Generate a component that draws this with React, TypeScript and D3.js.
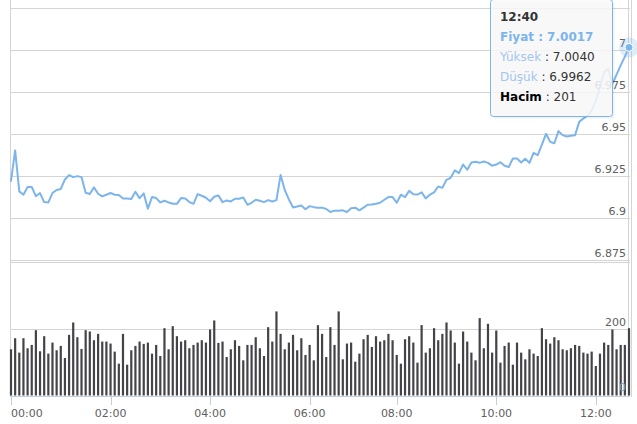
import React from "react";
import * as d3 from "d3";

// ---- data (5-minute points, ordinal x axis) ----
const price: number[] = [
  6.9222, 6.9403, 6.9159, 6.9139, 6.9185, 6.9185, 6.9131, 6.9149, 6.9095, 6.9093,
  6.9149, 6.9167, 6.9173, 6.9230, 6.9256, 6.9244, 6.9250, 6.9244, 6.9151, 6.9143,
  6.9183, 6.9145, 6.9129, 6.9139, 6.9149, 6.9139, 6.9137, 6.9117, 6.9117, 6.9113,
  6.9157, 6.9119, 6.9147, 6.9056, 6.9125, 6.9119, 6.9093, 6.9103, 6.9093, 6.9085,
  6.9085, 6.9119, 6.9117, 6.9095, 6.9085, 6.9143, 6.9133, 6.9121, 6.9100, 6.9127,
  6.9135, 6.9095, 6.9105, 6.9099, 6.9115, 6.9115, 6.9123, 6.9079, 6.9091, 6.9109,
  6.9103, 6.9095, 6.9107, 6.9099, 6.9107, 6.9256, 6.9167, 6.9111, 6.9063, 6.9069,
  6.9075, 6.9052, 6.9071, 6.9065, 6.9062, 6.9062, 6.9054, 6.9036, 6.9044, 6.9044,
  6.9046, 6.9036, 6.9058, 6.9062, 6.9046, 6.9062, 6.9079, 6.9081, 6.9085, 6.9091,
  6.9109, 6.9125, 6.9125, 6.9091, 6.9139, 6.9125, 6.9162, 6.9142, 6.9140, 6.9153,
  6.9117, 6.9140, 6.9153, 6.9188, 6.9180, 6.9228, 6.9240, 6.9284, 6.9268, 6.9319,
  6.9288, 6.9331, 6.9335, 6.9329, 6.9337, 6.9329, 6.9312, 6.9319, 6.9333, 6.9312,
  6.9304, 6.9355, 6.9355, 6.9331, 6.9353, 6.9329, 6.9389, 6.9375, 6.9438, 6.9502,
  6.9454, 6.9446, 6.9518, 6.9494, 6.9486, 6.9490, 6.9494, 6.9573, 6.9593, 6.9610,
  6.9640, 6.9700, 6.9780, 6.9870, 6.9890, 6.9800, 6.9855, 6.9910, 6.9962, 7.0017,
];

const volume: number[] = [
  138, 171, 128, 171, 141, 151, 195, 132, 177, 125,
  158, 135, 148, 112, 181, 218, 174, 139, 195, 191,
  165, 184, 161, 161, 155, 131, 95, 184, 92, 135,
  148, 161, 154, 158, 125, 151, 118, 201, 138, 207,
  177, 161, 165, 141, 151, 158, 165, 158, 197, 224,
  157, 161, 115, 138, 165, 148, 105, 151, 151, 174,
  141, 118, 204, 161, 251, 184, 138, 158, 181, 135,
  171, 121, 151, 105, 210, 184, 115, 204, 151, 251,
  108, 155, 158, 101, 125, 168, 181, 145, 177, 161,
  165, 184, 165, 121, 95, 168, 177, 158, 98, 210,
  128, 141, 201, 165, 184, 218, 194, 158, 95, 191,
  161, 128, 105, 231, 141, 214, 128, 194, 98, 148,
  158, 92, 158, 128, 108, 138, 125, 118, 201, 168,
  155, 174, 165, 138, 135, 141, 151, 148, 128, 125,
  131, 88, 125, 158, 151, 197, 138, 151, 151, 201,
];

const xTickLabels = ["00:00", "02:00", "04:00", "06:00", "08:00", "10:00", "12:00"];
const xTickIndex = [0, 24, 48, 72, 93, 117, 141];

const priceTicks = [6.875, 6.9, 6.925, 6.95, 6.975, 7, 7.025];
const priceTickLabels = ["6.875", "6.9", "6.925", "6.95", "6.975", "7", ""];
const volumeTicks = [0, 200, 400];
const volumeTickLabels = ["0", "200", ""];

const tooltipTime = "12:40";
const tooltipPrice = "7.0017";
const tooltipHigh = "7.0040";
const tooltipLow = "6.9962";
const tooltipVolume = "201";

const FONT = "'DejaVu Sans', Verdana, sans-serif";

export default function App() {
  const W = 637;
  const H = 424;
  const x = d3.scaleLinear().domain([0, price.length - 1]).range([11, 629]);
  const yP = d3.scaleLinear().domain([6.875, 7.025]).range([260, 8.3]);
  const yV = d3.scaleLinear().domain([0, 400]).range([395.5, 261.5]);

  const line = d3
    .line<number>()
    .x((_, i) => x(i))
    .y((d) => yP(d));

  const last = price.length - 1;
  const lx = x(last);
  const ly = yP(price[last]);

  const grid = "#d4d4d4";

  return (
    <svg
      width={W}
      height={H}
      style={{ position: "absolute", left: 0, top: 0, background: "#fff" }}
      fontFamily={FONT}
    >
      {/* price gridlines */}
      {priceTicks.map((t) => (
        <line key={"pg" + t} x1={10} x2={630} y1={Math.round(yP(t)) + 0.5} y2={Math.round(yP(t)) + 0.5} stroke={grid} strokeWidth={1} />
      ))}
      {/* volume gridlines */}
      {volumeTicks.slice(1).map((t) => (
        <line key={"vg" + t} x1={10} x2={630} y1={Math.round(yV(t)) + 0.5} y2={Math.round(yV(t)) + 0.5} stroke={grid} strokeWidth={1} />
      ))}
      {/* vertical frame lines */}
      <line x1={10.5} x2={10.5} y1={0} y2={397} stroke={grid} />
      <line x1={628.5} x2={628.5} y1={0} y2={397} stroke={grid} />
      <line x1={631.5} x2={631.5} y1={0} y2={397} stroke={grid} />

      {/* volume bars */}
      {volume.map((v, i) => (
        <rect key={"b" + i} x={x(i) - 1.1} y={yV(v)} width={2.2} height={yV(0) - yV(v)} fill="#434348" />
      ))}

      {/* x axis */}
      <line x1={10} x2={630} y1={396.5} y2={396.5} stroke="#c0d0e0" />
      {xTickIndex.map((idx, k) => (
        <g key={"xt" + k}>
          <line x1={Math.round(x(idx)) + 0.5} x2={Math.round(x(idx)) + 0.5} y1={396} y2={405} stroke="#c0d0e0" />
          <text
            x={k === 0 ? x(idx) : x(idx)}
            y={417}
            textAnchor={k === 0 ? "start" : "middle"}
            fontSize={11}
            fill="#606060"
          >
            {xTickLabels[k]}
          </text>
        </g>
      ))}

      {/* price line */}
      <path d={line(price) || ""} fill="none" stroke="#7cb5ec" strokeWidth={2} strokeLinejoin="round" strokeLinecap="round" />

      {/* price axis labels */}
      {priceTicks.map((t, k) =>
        priceTickLabels[k] ? (
          <text key={"pl" + t} x={626} y={yP(t) - 3} textAnchor="end" fontSize={11} fill="#606060">
            {priceTickLabels[k]}
          </text>
        ) : null
      )}
      {/* volume axis labels */}
      {volumeTicks.map((t, k) =>
        volumeTickLabels[k] ? (
          <text key={"vl" + t} x={626} y={yV(t) - (t === 0 ? 5 : 3)} textAnchor="end" fontSize={11} fill={t === 0 ? "#7ea4d0" : "#606060"}>
            {volumeTickLabels[k]}
          </text>
        ) : null
      )}

      {/* hover marker */}
      <circle cx={lx} cy={ly} r={10} fill="#7cb5ec" opacity={0.25} />
      <circle cx={lx} cy={ly} r={4} fill="#7cb5ec" stroke="#fff" strokeWidth={1} />

      {/* tooltip */}
      <g>
        <rect x={492.5} y={1.5} width={122} height={117} rx={3} fill="#000" opacity={0.05} />
        <rect x={490.5} y={-0.5} width={122} height={117} rx={3} fill="rgba(249,249,249,0.85)" stroke="#7cb5ec" strokeWidth={1} />
        <text x={500} y={21} fontSize={12} fontWeight="bold" fill="#333">
          {tooltipTime}
        </text>
        <text x={500} y={41} fontSize={12} fontWeight="bold" fill="#7cb5ec">
          {"Fiyat : " + tooltipPrice}
        </text>
        <text x={500} y={61} fontSize={12} fill="#333">
          <tspan fill="#a3c6ee">Yüksek</tspan>
          <tspan>{" : " + tooltipHigh}</tspan>
        </text>
        <text x={500} y={81} fontSize={12} fill="#333">
          <tspan fill="#a3c6ee">Düşük</tspan>
          <tspan>{" : " + tooltipLow}</tspan>
        </text>
        <text x={500} y={101} fontSize={12} fill="#000">
          <tspan fontWeight="bold">Hacim</tspan>
          <tspan fill="#333">{" : " + tooltipVolume}</tspan>
        </text>
      </g>
    </svg>
  );
}
